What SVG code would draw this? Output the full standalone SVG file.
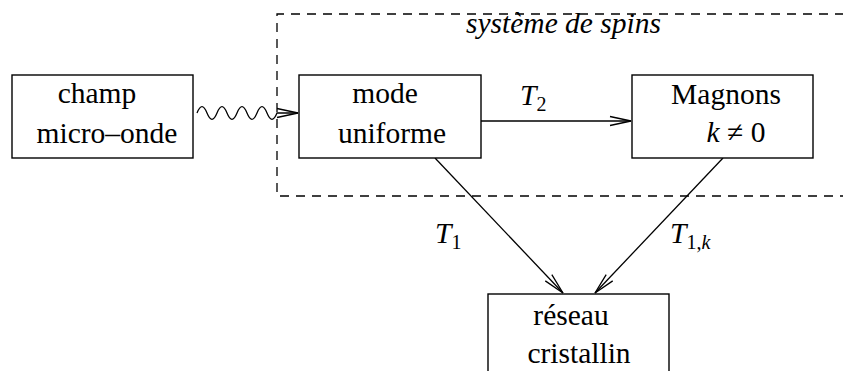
<svg xmlns="http://www.w3.org/2000/svg" width="843" height="371" viewBox="0 0 843 371">
<style>
.box{fill:#fff;stroke:#000;stroke-width:1.4}
.lbl{font-family:"Liberation Serif","Times New Roman",serif;font-size:29.5px;fill:#000;text-anchor:middle}
.it{font-style:italic}
.sub{font-size:20px}
.ln{fill:none;stroke:#000;stroke-width:1.3}
.dash{fill:none;stroke:#000;stroke-width:1.3;stroke-dasharray:9 7}
</style>
<defs>
<marker id="arr" markerUnits="userSpaceOnUse" markerWidth="24" markerHeight="12" viewBox="-22 -6 24 12" refX="0" refY="0" orient="auto">
<path d="M-21,-4.5 L0,0 L-21,4.5" fill="none" stroke="#000" stroke-width="1.3"/>
</marker>
</defs>
<g id="spin-system">
<polyline class="dash" points="860,14 277,14 277,196 860,196"/>
<text class="lbl it" x="466" y="33" style="text-anchor:start">système de spins</text>
</g>
<g id="connectors">
<path class="ln" d="M197,113 c3.5,-8.5 6.5,-8.5 10,0 s6.5,8.5 10,0 s6.5,-8.5 10,0 s6.5,8.5 10,0 s6.5,-8.5 10,0 s6.5,8.5 10,0 s6.5,-8.5 10,0 s6.5,8.5 10,0 L298,113" marker-end="url(#arr)"/>
<line class="ln" x1="481" y1="121" x2="631" y2="121" marker-end="url(#arr)"/>
<line class="ln" x1="435" y1="158" x2="563" y2="293" marker-end="url(#arr)"/>
<line class="ln" x1="723" y1="158" x2="595" y2="293" marker-end="url(#arr)"/>
<text class="lbl" x="520" y="105" style="text-anchor:start"><tspan class="it">T</tspan><tspan class="sub" dy="6">2</tspan></text>
<text class="lbl" x="435" y="243" style="text-anchor:start"><tspan class="it">T</tspan><tspan class="sub" dy="6">1</tspan></text>
<text class="lbl" x="670" y="243" style="text-anchor:start"><tspan class="it">T</tspan><tspan class="sub" dy="6">1,<tspan class="it">k</tspan></tspan></text>
</g>
<g id="champ">
<rect class="box" x="12" y="75" width="181" height="83"/>
<text class="lbl" x="97" y="103">champ</text>
<text class="lbl" x="107" y="143">micro–onde</text>
</g>
<g id="mode">
<rect class="box" x="299" y="75" width="182" height="83"/>
<text class="lbl" x="385" y="103">mode</text>
<text class="lbl" x="392" y="143">uniforme</text>
</g>
<g id="magnons">
<rect class="box" x="632" y="75" width="181" height="83"/>
<text class="lbl" x="726" y="104">Magnons</text>
<text class="lbl" x="736" y="142"><tspan class="it">k</tspan> ≠ 0</text>
</g>
<g id="reseau">
<rect class="box" x="488" y="294" width="181" height="100"/>
<text class="lbl" x="571" y="325">réseau</text>
<text class="lbl" x="579" y="363">cristallin</text>
</g>
</svg>
